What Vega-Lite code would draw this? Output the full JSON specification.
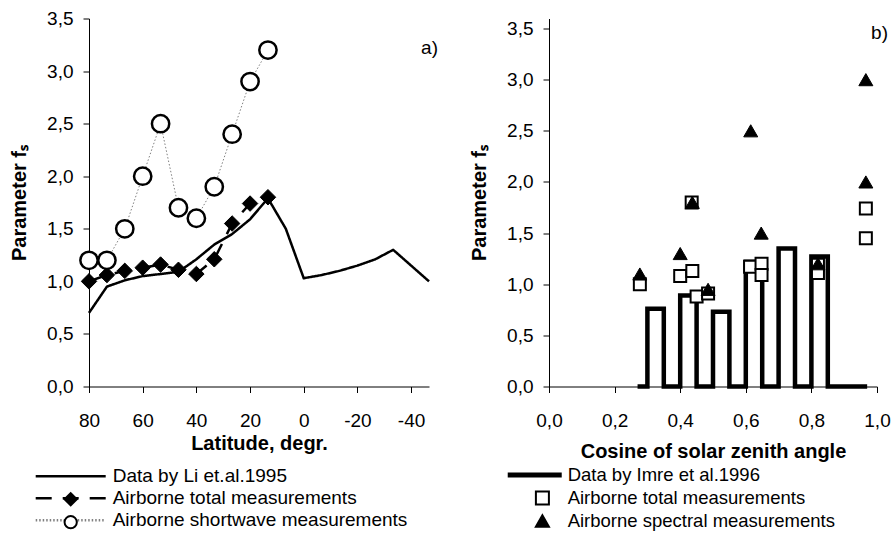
{
  "$schema": "https://vega.github.io/schema/vega-lite/v6.json",
  "background": "white",
  "padding": {"left": 9, "top": 9.5, "right": 0, "bottom": 0},
  "spacing": 31,
  "config": {
    "font": "Liberation Sans",
    "view": {"stroke": null},
    "axis": {"grid": false, "domainColor": "#000", "domainWidth": 1, "tickColor": "#000", "tickWidth": 1, "tickSize": 6, "labelColor": "#000", "labelFont": "Liberation Sans", "labelFontSize": 19, "labelFlush": false, "labelOverlap": false, "titleColor": "#000", "titleFont": "Liberation Sans", "titleFontSize": 20, "titleFontWeight": "bold"},
    "axisY": {"labelPadding": 10, "titlePadding": 17},
    "axisX": {"labelPadding": 19, "labelAngle": 0},
    "legend": {"labelFont": "Liberation Sans", "labelColor": "#000", "padding": 0, "labelLimit": 600},
    "title": {"font": "Liberation Sans", "fontSize": 19, "fontWeight": "normal", "color": "#000"}
  },
  "datasets": {
    "a": [
      {"lat": 80, "fs": 0.70, "series": "Data by Li et.al.1995"},
      {"lat": 73.33, "fs": 0.95, "series": "Data by Li et.al.1995"},
      {"lat": 66.67, "fs": 1.01, "series": "Data by Li et.al.1995"},
      {"lat": 60, "fs": 1.05, "series": "Data by Li et.al.1995"},
      {"lat": 53.33, "fs": 1.07, "series": "Data by Li et.al.1995"},
      {"lat": 46.67, "fs": 1.09, "series": "Data by Li et.al.1995"},
      {"lat": 40, "fs": 1.21, "series": "Data by Li et.al.1995"},
      {"lat": 33.33, "fs": 1.35, "series": "Data by Li et.al.1995"},
      {"lat": 26.67, "fs": 1.45, "series": "Data by Li et.al.1995"},
      {"lat": 20, "fs": 1.59, "series": "Data by Li et.al.1995"},
      {"lat": 13.33, "fs": 1.79, "series": "Data by Li et.al.1995"},
      {"lat": 6.67, "fs": 1.50, "series": "Data by Li et.al.1995"},
      {"lat": 0, "fs": 1.03, "series": "Data by Li et.al.1995"},
      {"lat": -6.67, "fs": 1.06, "series": "Data by Li et.al.1995"},
      {"lat": -13.33, "fs": 1.10, "series": "Data by Li et.al.1995"},
      {"lat": -20, "fs": 1.15, "series": "Data by Li et.al.1995"},
      {"lat": -26.67, "fs": 1.21, "series": "Data by Li et.al.1995"},
      {"lat": -33.33, "fs": 1.30, "series": "Data by Li et.al.1995"},
      {"lat": -40, "fs": 1.15, "series": "Data by Li et.al.1995"},
      {"lat": -46.67, "fs": 1.00, "series": "Data by Li et.al.1995"},
      {"lat": 80, "fs": 1.00, "series": "Airborne total measurements"},
      {"lat": 73.33, "fs": 1.06, "series": "Airborne total measurements"},
      {"lat": 66.67, "fs": 1.10, "series": "Airborne total measurements"},
      {"lat": 60, "fs": 1.13, "series": "Airborne total measurements"},
      {"lat": 53.33, "fs": 1.16, "series": "Airborne total measurements"},
      {"lat": 46.67, "fs": 1.11, "series": "Airborne total measurements"},
      {"lat": 40, "fs": 1.07, "series": "Airborne total measurements"},
      {"lat": 33.33, "fs": 1.21, "series": "Airborne total measurements"},
      {"lat": 26.67, "fs": 1.55, "series": "Airborne total measurements"},
      {"lat": 20, "fs": 1.74, "series": "Airborne total measurements"},
      {"lat": 13.33, "fs": 1.80, "series": "Airborne total measurements"},
      {"lat": 80, "fs": 1.2, "series": "Airborne shortwave measurements"},
      {"lat": 73.33, "fs": 1.2, "series": "Airborne shortwave measurements"},
      {"lat": 66.67, "fs": 1.5, "series": "Airborne shortwave measurements"},
      {"lat": 60, "fs": 2.0, "series": "Airborne shortwave measurements"},
      {"lat": 53.33, "fs": 2.5, "series": "Airborne shortwave measurements"},
      {"lat": 46.67, "fs": 1.7, "series": "Airborne shortwave measurements"},
      {"lat": 40, "fs": 1.6, "series": "Airborne shortwave measurements"},
      {"lat": 33.33, "fs": 1.9, "series": "Airborne shortwave measurements"},
      {"lat": 26.67, "fs": 2.4, "series": "Airborne shortwave measurements"},
      {"lat": 20, "fs": 2.9, "series": "Airborne shortwave measurements"},
      {"lat": 13.33, "fs": 3.2, "series": "Airborne shortwave measurements"}
    ],
    "imre": [
      {"i": 1, "cos": 0.27, "fs": 0},
      {"i": 2, "cos": 0.30, "fs": 0},
      {"i": 3, "cos": 0.30, "fs": 0.76},
      {"i": 4, "cos": 0.35, "fs": 0.76},
      {"i": 5, "cos": 0.35, "fs": 0},
      {"i": 6, "cos": 0.40, "fs": 0},
      {"i": 7, "cos": 0.40, "fs": 0.89},
      {"i": 8, "cos": 0.45, "fs": 0.89},
      {"i": 9, "cos": 0.45, "fs": 0},
      {"i": 10, "cos": 0.50, "fs": 0},
      {"i": 11, "cos": 0.50, "fs": 0.73},
      {"i": 12, "cos": 0.55, "fs": 0.73},
      {"i": 13, "cos": 0.55, "fs": 0},
      {"i": 14, "cos": 0.60, "fs": 0},
      {"i": 15, "cos": 0.60, "fs": 1.22},
      {"i": 16, "cos": 0.65, "fs": 1.22},
      {"i": 17, "cos": 0.65, "fs": 0},
      {"i": 18, "cos": 0.70, "fs": 0},
      {"i": 19, "cos": 0.70, "fs": 1.35},
      {"i": 20, "cos": 0.75, "fs": 1.35},
      {"i": 21, "cos": 0.75, "fs": 0},
      {"i": 22, "cos": 0.80, "fs": 0},
      {"i": 23, "cos": 0.80, "fs": 1.27},
      {"i": 24, "cos": 0.85, "fs": 1.27},
      {"i": 25, "cos": 0.85, "fs": 0},
      {"i": 26, "cos": 0.97, "fs": 0}
    ],
    "b": [
      {"cos": 0.277, "fs": 1.00, "series": "Airborne total measurements"},
      {"cos": 0.400, "fs": 1.08, "series": "Airborne total measurements"},
      {"cos": 0.437, "fs": 1.13, "series": "Airborne total measurements"},
      {"cos": 0.450, "fs": 0.88, "series": "Airborne total measurements"},
      {"cos": 0.485, "fs": 0.91, "series": "Airborne total measurements"},
      {"cos": 0.435, "fs": 1.80, "series": "Airborne total measurements"},
      {"cos": 0.613, "fs": 1.17, "series": "Airborne total measurements"},
      {"cos": 0.648, "fs": 1.20, "series": "Airborne total measurements"},
      {"cos": 0.648, "fs": 1.09, "series": "Airborne total measurements"},
      {"cos": 0.820, "fs": 1.19, "series": "Airborne total measurements"},
      {"cos": 0.820, "fs": 1.11, "series": "Airborne total measurements"},
      {"cos": 0.966, "fs": 1.74, "series": "Airborne total measurements"},
      {"cos": 0.966, "fs": 1.45, "series": "Airborne total measurements"},
      {"cos": 0.277, "fs": 1.10, "series": "Airborne spectral measurements"},
      {"cos": 0.400, "fs": 1.30, "series": "Airborne spectral measurements"},
      {"cos": 0.437, "fs": 1.80, "series": "Airborne spectral measurements"},
      {"cos": 0.485, "fs": 0.95, "series": "Airborne spectral measurements"},
      {"cos": 0.615, "fs": 2.50, "series": "Airborne spectral measurements"},
      {"cos": 0.647, "fs": 1.50, "series": "Airborne spectral measurements"},
      {"cos": 0.820, "fs": 1.20, "series": "Airborne spectral measurements"},
      {"cos": 0.966, "fs": 2.00, "series": "Airborne spectral measurements"},
      {"cos": 0.966, "fs": 3.00, "series": "Airborne spectral measurements"}
    ]
  },
  "resolve": {"scale": {"x": "independent", "y": "independent", "shape": "independent", "fill": "independent", "stroke": "independent", "strokeDash": "independent", "color": "independent"}},
  "hconcat": [
    {
      "width": 340,
      "height": 368,
      "title": {"text": "a)", "anchor": "end", "frame": "group", "offset": -48, "dx": 9},
      "data": {"name": "a"},
      "layer": [
        {
          "mark": {"type": "line", "strokeJoin": "round"},
          "encoding": {
            "x": {"field": "lat", "type": "quantitative", "scale": {"domain": [-46.67, 80], "reverse": true, "nice": false, "zero": false},
              "axis": {"values": [80, 60, 40, 20, 0, -20, -40], "labelExpr": "'' + datum.value", "title": "Latitude, degr.", "titlePadding": 3}},
            "y": {"field": "fs", "type": "quantitative", "scale": {"domain": [0, 3.5], "nice": false},
              "axis": {"values": [0, 0.5, 1, 1.5, 2, 2.5, 3, 3.5], "labelExpr": "replace(format(datum.value, '.1f'), '.', ',')", "title": "Parameter fₛ"}},
            "color": {"field": "series", "type": "nominal", "sort": "descending",
              "scale": {"range": ["#000000", "#000000", "#808080"]},
              "legend": {"orient": "none", "legendX": -58.3, "legendY": 448.2, "title": null, "symbolType": "M-7,0H7", "symbolSize": 100, "symbolStrokeWidth": 2.5, "symbolOffset": 30.5, "labelFontSize": 19, "labelOffset": 32.5, "labelLimit": 600, "padding": 0}},
            "strokeDash": {"field": "series", "type": "nominal", "sort": "descending",
              "scale": {"range": [[1, 0], [16, 11], [1.5, 2]]},
              "legend": {"orient": "none", "legendX": -58.3, "legendY": 448.2, "title": null, "symbolType": "M-7,0H7", "symbolSize": 100, "symbolStrokeWidth": 2.5, "symbolOffset": 30.5, "labelFontSize": 19, "labelOffset": 32.5, "labelLimit": 600, "padding": 0}},
            "strokeWidth": {"condition": {"test": "datum.series === 'Airborne shortwave measurements'", "value": 1}, "value": 2.5}
          }
        },
        {
          "transform": [{"filter": "datum.series !== 'Data by Li et.al.1995'"}],
          "mark": {"type": "point", "filled": true, "opacity": 1},
          "encoding": {
            "x": {"field": "lat", "type": "quantitative"},
            "y": {"field": "fs", "type": "quantitative"},
            "shape": {"field": "series", "type": "nominal",
              "scale": {"domain": ["Data by Li et.al.1995", "Airborne total measurements", "Airborne shortwave measurements"], "range": ["M0,0", "diamond", "circle"]},
              "legend": {"orient": "none", "legendX": -58.3, "legendY": 448.2, "title": null, "symbolSize": 150, "symbolStrokeWidth": 2, "symbolOffset": 30.5, "labelFontSize": 19, "labelOffset": 32.5, "labelExpr": "' '", "labelLimit": 600, "padding": 0}},
            "fill": {"field": "series", "type": "nominal",
              "scale": {"domain": ["Data by Li et.al.1995", "Airborne total measurements", "Airborne shortwave measurements"], "range": ["#ffffff", "#000000", "#ffffff"]},
              "legend": {"orient": "none", "legendX": -58.3, "legendY": 448.2, "title": null, "symbolSize": 150, "symbolStrokeWidth": 2, "symbolOffset": 30.5, "labelFontSize": 19, "labelOffset": 32.5, "labelExpr": "' '", "labelLimit": 600, "padding": 0}},
            "stroke": {"field": "series", "type": "nominal",
              "scale": {"domain": ["Data by Li et.al.1995", "Airborne total measurements", "Airborne shortwave measurements"], "range": ["#000000", "#000000", "#000000"]},
              "legend": {"orient": "none", "legendX": -58.3, "legendY": 448.2, "title": null, "symbolSize": 150, "symbolStrokeWidth": 2, "symbolOffset": 30.5, "labelFontSize": 19, "labelOffset": 32.5, "labelExpr": "' '", "labelLimit": 600, "padding": 0}},
            "size": {"condition": {"test": "datum.series === 'Airborne total measurements'", "value": 240}, "value": 300},
            "strokeWidth": {"condition": {"test": "datum.series === 'Airborne total measurements'", "value": 1}, "value": 2.5}
          }
        }
      ]
    },
    {
      "width": 328,
      "height": 368,
      "title": {"text": "b)", "anchor": "end", "frame": "group", "offset": -24.5, "dx": 11},
      "layer": [
        {
          "data": {"name": "imre"},
          "mark": {"type": "line", "stroke": "#000000", "strokeWidth": 4.5, "strokeJoin": "miter", "strokeCap": "butt"},
          "encoding": {
            "x": {"field": "cos", "type": "quantitative", "scale": {"domain": [0, 1], "nice": false},
              "axis": {"values": [0, 0.2, 0.4, 0.6, 0.8, 1], "labelExpr": "replace(format(datum.value, '.1f'), '.', ',')", "title": "Cosine of solar zenith angle", "titlePadding": 11}},
            "y": {"field": "fs", "type": "quantitative", "scale": {"domain": [0, 3.598], "nice": false},
              "axis": {"values": [0, 0.5, 1, 1.5, 2, 2.5, 3, 3.5], "labelExpr": "replace(format(datum.value, '.1f'), '.', ',')", "title": "Parameter fₛ"}},
            "order": {"field": "i", "type": "quantitative"}
          }
        },
        {
          "data": {"name": "b"},
          "mark": {"type": "point", "filled": true, "opacity": 1},
          "encoding": {
            "x": {"field": "cos", "type": "quantitative"},
            "y": {"field": "fs", "type": "quantitative"},
            "shape": {"field": "series", "type": "nominal",
              "scale": {"domain": ["Data by Imre et al.1996", "Airborne total measurements", "Airborne spectral measurements"], "range": ["M-5.18,-0.23H2.82V0.23H-5.18Z", "square", "triangle-up"]},
              "legend": {"orient": "none", "legendX": -49.85, "legendY": 447.25, "title": null, "symbolSize": 169, "symbolStrokeWidth": 2, "symbolOffset": 34, "labelFontSize": 18.5, "labelOffset": 16, "labelLimit": 600, "padding": 0}},
            "fill": {"field": "series", "type": "nominal",
              "scale": {"domain": ["Data by Imre et al.1996", "Airborne total measurements", "Airborne spectral measurements"], "range": ["#000000", "#ffffff", "#000000"]},
              "legend": {"orient": "none", "legendX": -49.85, "legendY": 447.25, "title": null, "symbolSize": 169, "symbolStrokeWidth": 2, "symbolOffset": 34, "labelFontSize": 18.5, "labelOffset": 16, "labelLimit": 600, "padding": 0}},
            "stroke": {"field": "series", "type": "nominal",
              "scale": {"domain": ["Data by Imre et al.1996", "Airborne total measurements", "Airborne spectral measurements"], "range": ["#000000", "#000000", "#000000"]},
              "legend": {"orient": "none", "legendX": -49.85, "legendY": 447.25, "title": null, "symbolSize": 169, "symbolStrokeWidth": 2, "symbolOffset": 34, "labelFontSize": 18.5, "labelOffset": 16, "labelLimit": 600, "padding": 0}},
            "size": {"condition": {"test": "datum.series === 'Airborne total measurements'", "value": 144}, "value": 196},
            "strokeWidth": {"condition": {"test": "datum.series === 'Airborne total measurements'", "value": 2}, "value": 1}
          }
        }
      ]
    }
  ]
}
